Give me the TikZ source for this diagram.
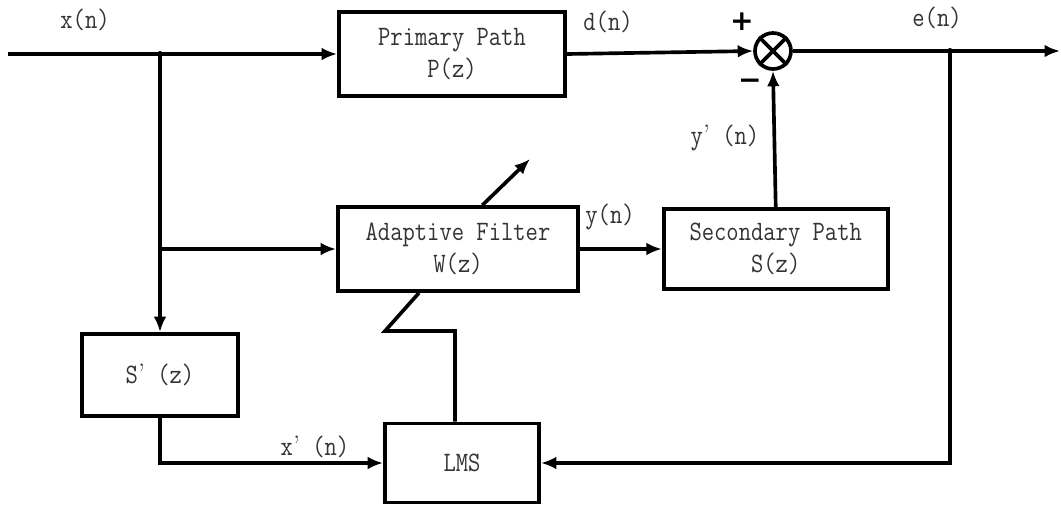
\documentclass[tikz,border=0pt]{standalone}
\usepackage{fontspec}
\newfontfamily\blockfont[FakeStretch=0.85]{Latin Modern Mono}
\newfontfamily\signfont{DejaVu Sans}
\usetikzlibrary{arrows.meta}
\usetikzlibrary{positioning}
\usetikzlibrary{calc}
\newcommand{\prm}{{\rmfamily ’}}
\tikzstyle{block} = [draw, rectangle, line width=2.6pt, align=center,
font=\blockfont\fontsize{20}{23}\selectfont, text=black!80]
\tikzstyle{line} = [draw, line width=2.6pt, -{Latex[length=11pt,width=9pt]}]
\tikzstyle{wire} = [draw, line width=2.6pt]
\tikzstyle{lbl} = [font=\blockfont\fontsize{20}{23}\selectfont, text=black!80, inner sep=0pt]
\tikzstyle{sign} = [font=\signfont\bfseries\fontsize{20}{22}\selectfont, inner sep=0pt]

\begin{document}
\begin{tikzpicture}[x=0.025cm, y=-0.025cm]
    \useasboundingbox (0,0) rectangle (1061,508);
    \node [block, minimum width=5.65cm, minimum height=2.1cm] (P) at (452,54) {Primary Path\\P(z)};
    \node [draw, circle, line width=2.6pt, minimum size=0.9cm, inner sep=0pt] (sum) at (773,51) {};
    \draw [line width=2.6pt] (sum.north west) -- (sum.south east) (sum.north east) -- (sum.south west);
    \node [block, minimum width=6.0cm, minimum height=2.1cm] (W) at (458,249) {Adaptive Filter\\W(z)};
    \node [block, right=2.05cm of W, minimum width=5.6cm, minimum height=2.0cm] (S) {Secondary Path\\S(z)};
    \node [block, minimum width=3.9cm, minimum height=2.05cm] (Sp) at (160,375) {S\prm\ (z)};
    \node [block, minimum width=3.85cm, minimum height=1.98cm] (LMS) at (462,463) {LMS};
	%% Coordinates
    \coordinate (in) at (8,54);
    \coordinate (j1) at (160,54);
    \coordinate (j2) at (160,249);
    \coordinate (j3) at (950,51);
    \coordinate (out) at (1060,51);
    \coordinate (k1) at (385,331);
    \coordinate (k2) at (455,331);
    \coordinate (tip) at (530,159);
	%% Labels
    \node [lbl] (xn) at (85,20) {x(n)};
    \node [lbl] (dn) at (608,22) {d(n)};
    \node [sign] (plus) at (742,22) {+};
    \node [sign] (minus) at (750,84) {−};
    \node [lbl] (en) at (937,18) {e(n)};
    \node [lbl] (ypn) at (725,138) {y\prm\ (n)};
    \node [lbl] (yn) at (610,217) {y(n)};
    \node [lbl] (xpn) at (315,447) {x\prm\ (n)};
	%% Arrows
    \path [line] (in) -- (P.west);
    \path [line] (P.east) -- (sum.west);
    \path [line] (sum.east) -- (out);
    \path [line] (j1) -- (Sp.north);
    \path [line] (j2) -- (W.west);
    \path [line] (W.east) -- (S.west);
    \path [line] (S.north) -- (sum.south);
    \path [line] (Sp.south) |- (LMS.west);
    \path [line] (j3) |- (LMS.east);
    \path [line] ($(W.north west)!0.6!(W.north east)$) -- (tip);
    \path [wire] ($(W.south west)!0.34!(W.south east)$) -- (k1) -- (k2) -- (k2 |- LMS.north);
	%% Junctions
    \fill (j1) circle (3);
    \fill (j3) circle (3);
\end{tikzpicture}
\end{document}
